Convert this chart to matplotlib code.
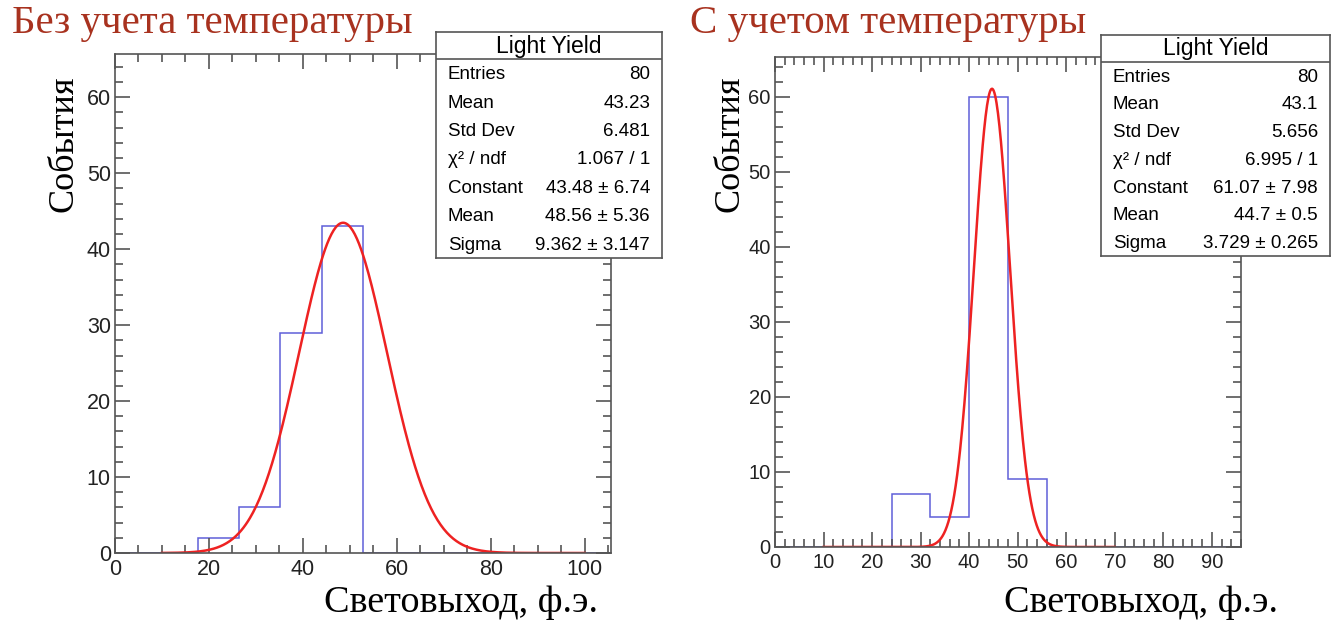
import matplotlib
matplotlib.use("Agg")
import matplotlib.pyplot as plt
from matplotlib.ticker import MultipleLocator
import numpy as np

# histogram data (bin counts)
left_edges = np.arange(0, 105.61, 8.8)
left_counts = [0, 0, 2, 6, 29, 43, 0, 0, 0, 0, 0, 0]
right_edges = np.arange(0, 96.01, 8)
right_counts = [0, 0, 0, 7, 4, 60, 9, 0, 0, 0, 0, 0]

# gaussian fit parameters from the stat boxes
left_fit = (43.48, 48.56, 9.362)
left_fit_range = (10, 100)
right_fit = (61.07, 44.7, 3.729)
right_fit_range = (10, 70)

left_stats = [("Entries", "80"), ("Mean", "43.23"), ("Std Dev", "6.481"),
              ("χ² / ndf", "1.067 / 1"), ("Constant", "43.48 ± 6.74"),
              ("Mean", "48.56 ± 5.36"), ("Sigma", "9.362 ± 3.147")]
right_stats = [("Entries", "80"), ("Mean", "43.1"), ("Std Dev", "5.656"),
               ("χ² / ndf", "6.995 / 1"), ("Constant", "61.07 ± 7.98"),
               ("Mean", "44.7 ± 0.5"), ("Sigma", "3.729 ± 0.265")]

titles = ["Без учета температуры", "С учетом температуры"]
xlabel = "Световыход, ф.э."
ylabel = "События"

W, H = 1335, 623
plt.rcParams['font.family'] = ['Liberation Sans', 'DejaVu Sans']
fig = plt.figure(figsize=(W / 100, H / 100), dpi=100)

def px(x0, y0, x1, y1):
    # pixel box (top-left origin) -> figure fraction
    return [x0 / W, 1 - y1 / H, (x1 - x0) / W, (y1 - y0) / H]

axcol = "#555555"
serif = ['Liberation Serif', 'DejaVu Serif']


def draw_panel(box, edges, counts, fit, fit_range, xmax, ymax, xmaj, xmin_step, lsize):
    ax = fig.add_axes(px(*box))
    ax.stairs(counts, edges, color="#5f5fd8", linewidth=1.1)
    x = np.linspace(fit_range[0], fit_range[1], 400)
    c, m, s = fit
    ax.plot(x, c * np.exp(-0.5 * ((x - m) / s) ** 2), color="#ee2222", linewidth=1.8)
    ax.set_xlim(0, xmax)
    ax.set_ylim(0, ymax)
    ax.xaxis.set_major_locator(MultipleLocator(xmaj))
    ax.xaxis.set_minor_locator(MultipleLocator(xmin_step))
    ax.yaxis.set_major_locator(MultipleLocator(10))
    ax.yaxis.set_minor_locator(MultipleLocator(2))
    ax.tick_params(which='both', direction='in', top=True, right=True,
                   color=axcol, width=1.2, labelsize=lsize, labelcolor="#222222")
    ax.tick_params(which='major', length=11, pad=3)
    ax.tick_params(which='minor', length=5.5)
    ax.tick_params(axis='x', which='major', pad=4)
    for sp in ax.spines.values():
        sp.set_color(axcol)
        sp.set_linewidth(1.2)
    return ax


def stat_box(box, rows):
    sb = fig.add_axes(px(*box))
    sb.set_xticks([])
    sb.set_yticks([])
    sb.set_xlim(0, 1)
    sb.set_ylim(0, 1)
    for sp in sb.spines.values():
        sp.set_color(axcol)
        sp.set_linewidth(1.2)
    w = box[2] - box[0]
    h = box[3] - box[1]
    sep = 1 - 27 / h
    sb.axhline(sep, color=axcol, linewidth=1.2)
    sb.text(0.5, 1 - 14 / h, "Light Yield", ha='center', va='center', fontsize=16.5)
    step = sep / len(rows)
    for i, (k, v) in enumerate(rows):
        y = sep - step * (i + 0.55)
        sb.text(12 / w, y, k, ha='left', va='center', fontsize=13.5)
        sb.text(1 - 12 / w, y, v, ha='right', va='center', fontsize=13.5)


draw_panel((115, 54, 611, 553), left_edges, left_counts, left_fit, left_fit_range,
           105.6, 65.7, 20, 5, 15.5)
draw_panel((775, 57, 1241, 547), right_edges, right_counts, right_fit, right_fit_range,
           96, 65.3, 10, 2, 14.5)

stat_box((436, 32, 662, 258), left_stats)
stat_box((1101, 35, 1330, 256), right_stats)

title_col = "#a8321f"
fig.text(12 / W, 1 - 24 / H, titles[0], color=title_col, family=serif, fontsize=29.5,
         ha='left', va='center')
fig.text(690 / W, 1 - 24 / H, titles[1], color=title_col, family=serif, fontsize=29.5,
         ha='left', va='center')

fig.text(598 / W, 1 - 603 / H, xlabel, family=serif, fontsize=27.5, ha='right', va='center')
fig.text(1278 / W, 1 - 603 / H, xlabel, family=serif, fontsize=27.5, ha='right', va='center')
fig.text(64 / W, 1 - 75 / H, ylabel, family=serif, fontsize=26, rotation=90,
         ha='center', va='top')
fig.text(730 / W, 1 - 75 / H, ylabel, family=serif, fontsize=26, rotation=90,
         ha='center', va='top')

fig.savefig("out.png", dpi=100)
